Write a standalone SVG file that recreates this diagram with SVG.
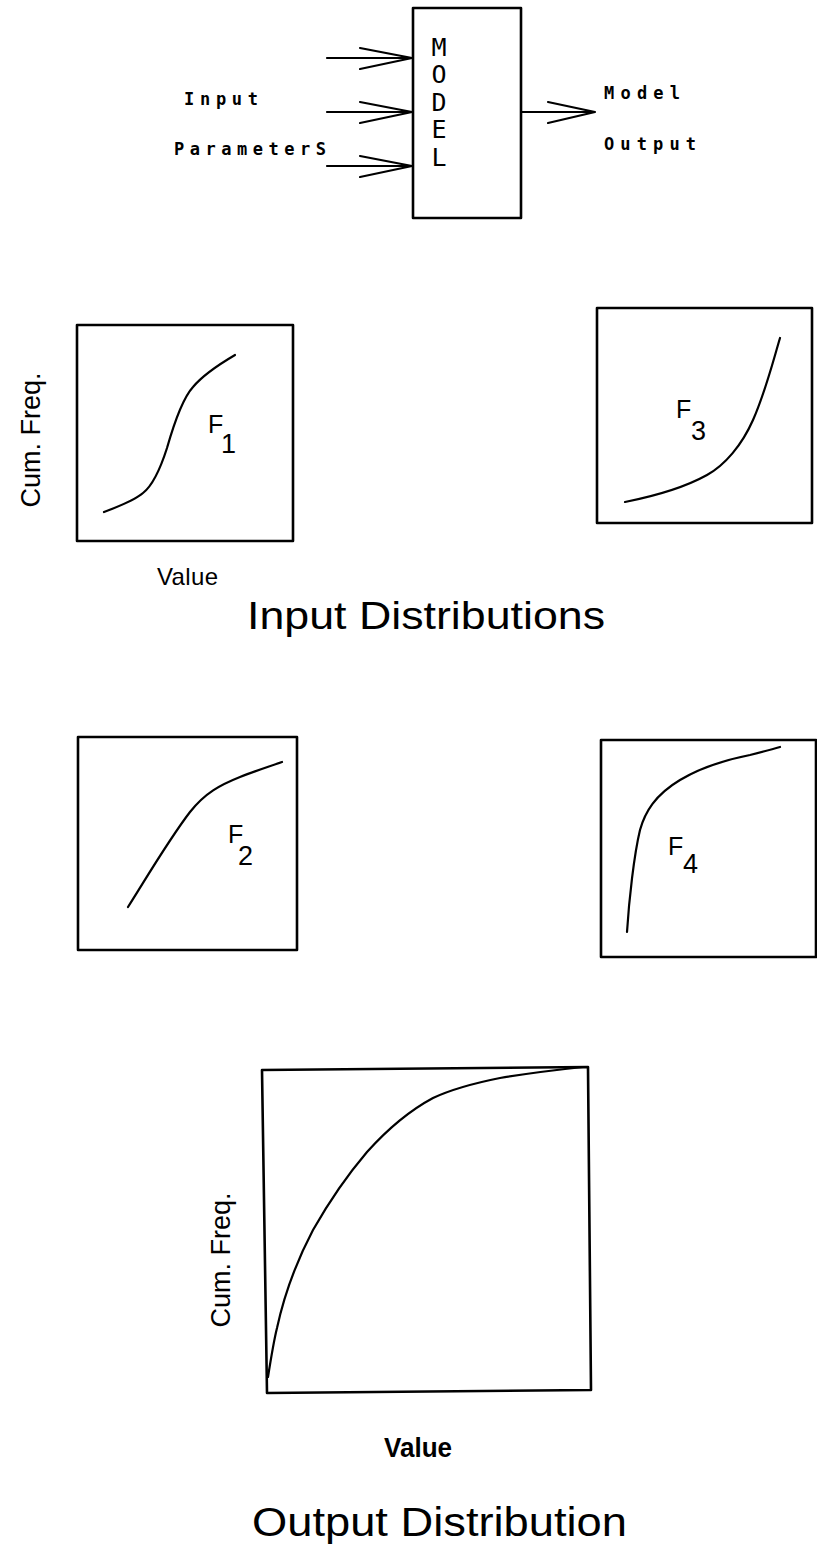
<svg xmlns="http://www.w3.org/2000/svg" width="817" height="1553" viewBox="0 0 817 1553">
<style>
.bg{fill:#ffffff}
.box{fill:none;stroke:#000;stroke-width:2.6;stroke-linejoin:round}
.curve{fill:none;stroke:#000;stroke-width:2.2;stroke-linecap:round;stroke-linejoin:round}
.arr{fill:none;stroke:#000;stroke-width:2.2;stroke-linecap:round;stroke-linejoin:round}
.plot{font-family:"DejaVu Sans Mono","Liberation Mono",monospace;font-size:17px;font-weight:bold;fill:#000}
.modl{font-family:"DejaVu Sans Mono","Liberation Mono",monospace;font-size:25px;fill:#000;text-anchor:middle}
.ax{font-family:"Liberation Sans",Arial,sans-serif;fill:#000}
.lbl{font-family:"Liberation Sans",Arial,sans-serif;fill:#000;font-size:25px}
.sub{font-family:"Liberation Sans",Arial,sans-serif;fill:#000;font-size:27px}
.title{font-family:"Liberation Sans",Arial,sans-serif;fill:#000}
</style>
<rect class="bg" x="0" y="0" width="817" height="1553"/>

<g id="model">
<rect class="box" x="413" y="8" width="108" height="210"/>
<text class="modl" x="439" y="56">M</text>
<text class="modl" x="439" y="83">O</text>
<text class="modl" x="439" y="111">D</text>
<text class="modl" x="439" y="138">E</text>
<text class="modl" x="439" y="166">L</text>
</g>

<g id="input-label">
<text class="plot" x="184" y="105" textLength="74" lengthAdjust="spacing">Input</text>
<text class="plot" x="174" y="155" textLength="152" lengthAdjust="spacing">ParameterS</text>
</g>

<g id="output-label">
<text class="plot" x="604" y="99" textLength="76" lengthAdjust="spacing">Model</text>
<text class="plot" x="604" y="150" textLength="92" lengthAdjust="spacing">Output</text>
</g>

<g id="connectors">
<path class="arr" d="M327,58 H413 M360,48 L412,58 L360,69"/>
<path class="arr" d="M327,112 H413 M360,102 L412,112 L360,123"/>
<path class="arr" d="M327,166 H413 M360,156 L412,166 L360,177"/>
<path class="arr" d="M521,112 H595 M548,102 L595,112 L548,123"/>
</g>

<g id="f1">
<rect class="box" x="77" y="325" width="216" height="216"/>
<path class="curve" d="M104,512 C120,506 135,500 143,493 C152,486 160,470 167,448 C175,420 183,398 193,387 C203,375 218,365 235,355"/>
<text class="lbl" x="208" y="433">F</text>
<text class="sub" x="221" y="453">1</text>
<text class="ax" font-size="27" transform="translate(40,440) rotate(-90)" text-anchor="middle">Cum. Freq.</text>
<text class="ax" font-size="24" x="157" y="585" textLength="61">Value</text>
</g>

<g id="input-title">
<text class="title" font-size="38" x="247" y="629" textLength="358" lengthAdjust="spacingAndGlyphs">Input Distributions</text>
</g>

<g id="f3">
<rect class="box" x="597" y="308" width="215" height="215"/>
<path class="curve" d="M625,502 C650,497 680,490 707,475 C725,465 742,445 753,420 C765,393 772,365 780,338"/>
<text class="lbl" x="676" y="418">F</text>
<text class="sub" x="691" y="440">3</text>
</g>

<g id="f2">
<rect class="box" x="78" y="737" width="219" height="213"/>
<path class="curve" d="M128,907 C150,872 170,838 190,812 C205,793 220,785 240,777 C255,771 268,767 282,762"/>
<text class="lbl" x="228" y="843">F</text>
<text class="sub" x="238" y="865">2</text>
</g>

<g id="f4">
<rect class="box" x="601" y="740" width="215" height="217"/>
<path class="curve" d="M627,932 C629,900 634,855 640,830 C645,812 655,795 680,780 C700,768 725,760 750,755 C762,752 770,750 780,747"/>
<text class="lbl" x="668" y="855">F</text>
<text class="sub" x="683" y="873">4</text>
</g>

<g id="output">
<path class="box" d="M262,1070 L588,1067 L591,1390 L267,1393 Z"/>
<path class="curve" d="M268,1377 C271,1358 274,1340 277,1328 C282,1305 292,1270 313,1230 C330,1200 350,1172 367,1152 C385,1132 405,1113 433,1098 C450,1090 470,1084 500,1078 C530,1073 555,1070 583,1067"/>
<text class="ax" font-size="27" transform="translate(230,1260) rotate(-90)" text-anchor="middle">Cum. Freq.</text>
<text class="ax" font-size="27" font-weight="bold" x="384" y="1457" textLength="68" lengthAdjust="spacingAndGlyphs">Value</text>
<text class="title" font-size="41" x="252" y="1536" textLength="375" lengthAdjust="spacingAndGlyphs">Output Distribution</text>
</g>
</svg>
